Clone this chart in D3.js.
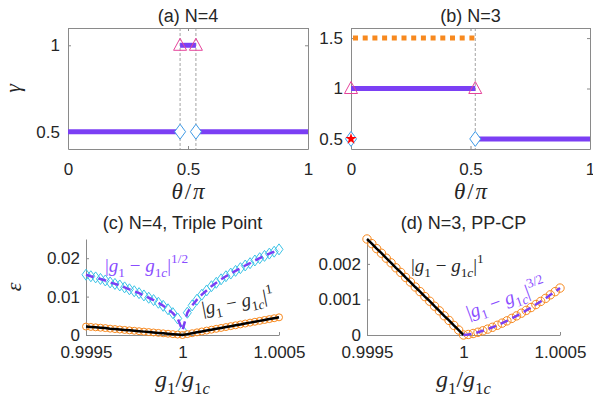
<!DOCTYPE html>
<html>
<head>
<meta charset="utf-8">
<script src="https://cdn.jsdelivr.net/npm/d3@7"></script>
<style>
  body { margin: 0; background: #fff; }
  text { font-family: "Liberation Sans", Arial, sans-serif; fill: #262626; }
</style>
</head>
<body>
<svg id="fig" width="593" height="398"></svg>
<script>
// ---------- data ----------
const thetaTicks = [0, 0.5, 1];

// (a) N=4
const aSegStart = [0, 0.467, 0.533];
const aSegEnd = [0.467, 0.533, 1];
const aSegGamma = [0.5, 1, 0.5];
const aCritTheta = [0.467, 0.533];
const aTriGamma = [1, 1];
const aDiaGamma = [0.5, 0.5];
const aGammaTicks = [0.5, 1];

// (b) N=3
const bSegStart = [0, 0.52];
const bSegEnd = [0.52, 1];
const bSegGamma = [1, 0.5];
const bDotStart = [0];
const bDotEnd = [0.52];
const bDotGamma = [1.5];
const bCritTheta = [0.52];
const bMarkTheta = [0, 0.52];
const bTriGamma = [1, 1];
const bDiaGamma = [0.5, 0.5];
const bStarTheta = [0];
const bStarGamma = [0.5];
const bGammaTicks = [0.5, 1, 1.5];

// (c),(d) x = g1/g1c - 1, in units of 1e-5
const dg = [-50, -47.5, -45, -42.5, -40, -37.5, -35, -32.5, -30, -27.5, -25, -22.5, -20, -17.5, -15, -12.5, -10, -7.5, -5, -2.5, 0,
  2.5, 5, 7.5, 10, 12.5, 15, 17.5, 20, 22.5, 25, 27.5, 30, 32.5, 35, 37.5, 40, 42.5, 45, 47.5, 50];
const gTicks = [-50, 0, 50];
const gTickLabels = ["0.9995", "1", "1.0005"];

// (c) N=4 triple point
const cGapSqrt = [0.0157, 0.0153, 0.0150, 0.0146, 0.0142, 0.0137, 0.0133, 0.0129, 0.0124, 0.0119, 0.0114, 0.0109, 0.0103, 0.0097, 0.0091, 0.0084, 0.0076, 0.0067, 0.0057, 0.0043, 0.0012,
  0.0058, 0.0077, 0.0092, 0.0105, 0.0116, 0.0127, 0.0136, 0.0145, 0.0153, 0.0160, 0.0167, 0.0174, 0.0181, 0.0187, 0.0194, 0.0200, 0.0206, 0.0212, 0.0217, 0.0223];
const cGapLin = [0.0022, 0.0021, 0.0020, 0.0019, 0.0018, 0.00165, 0.00154, 0.00143, 0.00132, 0.00121, 0.0011, 0.00099, 0.00088, 0.00077, 0.00066, 0.00055, 0.00044, 0.00033, 0.00022, 0.00011, 0,
  0.00023, 0.00046, 0.00069, 0.00092, 0.00115, 0.00138, 0.00161, 0.00184, 0.00207, 0.0023, 0.00253, 0.00276, 0.00299, 0.00322, 0.00345, 0.00368, 0.00391, 0.00414, 0.00437, 0.0046];
const cTicks = [0, 0.01, 0.02];

// (d) N=3 PP-CP
const dGap = [0.0027, 0.00257, 0.00243, 0.0023, 0.00216, 0.00203, 0.00189, 0.00176, 0.00162, 0.00149, 0.00135, 0.00122, 0.00108, 0.00095, 0.00081, 0.00068, 0.00054, 0.00041, 0.00027, 0.00014, 0,
  0.000015, 0.000042, 0.000077, 0.000118, 0.000165, 0.000217, 0.000273, 0.000334, 0.000398, 0.000467, 0.000538, 0.000613, 0.000692, 0.000773, 0.000857, 0.000944, 0.00103, 0.00113, 0.00122, 0.00132];
const dTicks = [0, 0.001, 0.002];

// ---------- styles ----------
const purple = "#7b3ff4";
const purpleText = "#8a4dff";
const magenta = "#e5449b";
const blue = "#3f9ae6";
const cyan = "#3cc3e6";
const orange = "#f7891f";
const axisCol = "#8a8a8a";
const tickFont = 17;
const titleFont = 18;

const svg = d3.select("#fig");

// math-ish text (LaTeX look): parts = [text, level(0 base, -1 sub, 1 sup), italic]
function addMath(g, parts, fs) {
  const t = g.append("text")
    .style("font-family", '"Liberation Serif", "DejaVu Serif", serif')
    .style("font-size", fs + "px");
  let cur = 0;
  parts.forEach(([txt, lvl, it]) => {
    const target = lvl === -1 ? 0.28 * fs : lvl === 1 ? -0.45 * fs : 0;
    t.append("tspan").text(txt)
      .attr("dy", target - cur)
      .style("font-size", (lvl ? 0.7 * fs : fs) + "px")
      .style("font-style", it ? "italic" : "normal");
    cur = target;
  });
  return t;
}
const absPow = p => [["|", 0, false], ["g", 0, true], ["1", -1, false], [" \u2212 ", 0, false],
  ["g", 0, true], ["1", -1, false], ["c", -1, true], ["|", 0, false], [p, 1, false]];
const gRatio = [["g", 0, true], ["1", -1, false], ["/", 0, false], ["g", 0, true], ["1", -1, false], ["c", -1, true]];
const thetaPi = [["\u03b8", 0, true], ["\u200a/\u200a", 0, false], ["\u03c0", 0, true]];

function styleAxis(g) {
  g.selectAll(".domain").attr("stroke", axisCol);
  g.selectAll(".tick line").attr("stroke", axisCol);
  g.selectAll(".tick text").style("font-size", tickFont + "px").attr("fill", "#262626");
}

const triPath = "M0,-7L6.5,5L-6.5,5Z";
const diaPath = (w, h) => `M0,${-h}L${w},0L0,${h}L${-w},0Z`;

// ---------- box panels (a), (b) ----------
function boxPanel(x, y, yTicks, title) {
  const [x0, x1] = x.range();
  const [y0, y1] = y.range();
  const g = svg.append("g");
  g.append("g").attr("transform", `translate(0,${y0})`)
    .call(d3.axisBottom(x).tickValues(thetaTicks).tickSize(-3).tickSizeOuter(0).tickPadding(14).tickFormat(d3.format("")))
    .call(styleAxis);
  g.append("g").attr("transform", `translate(0,${y1})`)
    .call(d3.axisTop(x).tickValues(thetaTicks).tickSize(-3).tickSizeOuter(0).tickFormat(""))
    .call(styleAxis);
  g.append("g").attr("transform", `translate(${x0},0)`)
    .call(d3.axisLeft(y).tickValues(yTicks).tickSize(-3).tickSizeOuter(0).tickPadding(8).tickFormat(d3.format("")))
    .call(styleAxis);
  g.append("g").attr("transform", `translate(${x1},0)`)
    .call(d3.axisRight(y).tickValues(yTicks).tickSize(-3).tickSizeOuter(0).tickFormat(""))
    .call(styleAxis);
  g.append("text").attr("x", (x0 + x1) / 2).attr("y", y1 - 6)
    .attr("text-anchor", "middle").style("font-size", titleFont + "px").text(title);
  addMath(g, thetaPi, 23).attr("x", (x0 + x1) / 2).attr("y", 199).attr("text-anchor", "middle");
  return g;
}

// (a)
const xA = d3.scaleLinear().domain([0, 1]).range([68, 308]);
const yA = d3.scaleLinear().domain([0.4, 1.1]).range([149, 28]);
const gA = boxPanel(xA, yA, aGammaTicks, "(a) N=4");
gA.selectAll(".crit").data(aCritTheta).enter().append("line")
  .attr("x1", d => xA(d)).attr("x2", d => xA(d)).attr("y1", yA(1.1)).attr("y2", yA(0.4))
  .attr("stroke", "#8c8c8c").attr("stroke-width", 0.8).attr("stroke-dasharray", "3,2");
gA.selectAll(".seg").data(aSegGamma).enter().append("line")
  .attr("x1", (d, i) => xA(aSegStart[i])).attr("x2", (d, i) => xA(aSegEnd[i]))
  .attr("y1", d => yA(d)).attr("y2", d => yA(d))
  .attr("stroke", purple).attr("stroke-width", 5);
gA.selectAll(".tri").data(aCritTheta).enter().append("path")
  .attr("d", triPath).attr("transform", (d, i) => `translate(${xA(d)},${yA(aTriGamma[i])})`)
  .attr("fill", "none").attr("stroke", magenta).attr("stroke-width", 1);
gA.selectAll(".dia").data(aCritTheta).enter().append("path")
  .attr("d", diaPath(5.5, 7.5)).attr("transform", (d, i) => `translate(${xA(d)},${yA(aDiaGamma[i])})`)
  .attr("fill", "#fff").attr("stroke", blue).attr("stroke-width", 1);
addMath(gA, [["\u03b3", 0, true]], 22).attr("transform", `translate(20,${yA(0.75)}) rotate(-90)`).attr("text-anchor", "middle");

// (b)
const xB = d3.scaleLinear().domain([0, 1]).range([351, 590]);
const yB = d3.scaleLinear().domain([0.4, 1.6]).range([149, 28]);
const gB = boxPanel(xB, yB, bGammaTicks, "(b) N=3");
gB.selectAll(".crit").data(bCritTheta).enter().append("line")
  .attr("x1", d => xB(d)).attr("x2", d => xB(d)).attr("y1", yB(1.6)).attr("y2", yB(0.4))
  .attr("stroke", "#8c8c8c").attr("stroke-width", 0.8).attr("stroke-dasharray", "3,2");
gB.selectAll(".dot").data(bDotGamma).enter().append("line")
  .attr("x1", (d, i) => xB(bDotStart[i]) + 2).attr("x2", (d, i) => xB(bDotEnd[i]))
  .attr("y1", d => yB(d)).attr("y2", d => yB(d))
  .attr("stroke", orange).attr("stroke-width", 5).attr("stroke-dasharray", "5,4.7");
gB.selectAll(".seg").data(bSegGamma).enter().append("line")
  .attr("x1", (d, i) => xB(bSegStart[i])).attr("x2", (d, i) => xB(bSegEnd[i]))
  .attr("y1", d => yB(d)).attr("y2", d => yB(d))
  .attr("stroke", purple).attr("stroke-width", 5);
gB.selectAll(".tri").data(bMarkTheta).enter().append("path")
  .attr("d", triPath).attr("transform", (d, i) => `translate(${xB(d)},${yB(bTriGamma[i])})`)
  .attr("fill", "none").attr("stroke", magenta).attr("stroke-width", 1);
gB.selectAll(".dia").data(bMarkTheta).enter().append("path")
  .attr("d", diaPath(5.5, 7.5)).attr("transform", (d, i) => `translate(${xB(d)},${yB(bDiaGamma[i])})`)
  .attr("fill", "#fff").attr("stroke", blue).attr("stroke-width", 1);
gB.selectAll(".star").data(bStarTheta).enter().append("path")
  .attr("d", d3.symbol(d3.symbolStar, 40))
  .attr("transform", (d, i) => `translate(${xB(d)},${yB(bStarGamma[i])})`)
  .attr("fill", "#ff0000");

// ---------- open panels (c), (d) ----------
function openPanel(x, y, yTicks, title) {
  const [x0, x1] = x.range();
  const [y0, y1] = y.range();
  const g = svg.append("g");
  g.append("g").attr("transform", `translate(0,${y0})`)
    .call(d3.axisBottom(x).tickValues(gTicks).tickSize(-3).tickSizeOuter(0).tickPadding(11)
      .tickFormat((d, i) => gTickLabels[i]))
    .call(styleAxis);
  g.append("g").attr("transform", `translate(${x0},0)`)
    .call(d3.axisLeft(y).tickValues(yTicks).tickSize(-3).tickSizeOuter(0).tickPadding(6).tickFormat(d3.format("")))
    .call(styleAxis);
  g.append("text").attr("x", (x0 + x1) / 2).attr("y", 229)
    .attr("text-anchor", "middle").style("font-size", titleFont + "px").text(title);
  addMath(g, gRatio, 24).attr("x", (x0 + x1) / 2).attr("y", 387).attr("text-anchor", "middle");
  return g;
}

// (c)
const xC = d3.scaleLinear().domain([-50, 50]).range([86, 279]);
const yC = d3.scaleLinear().domain([0, 0.025]).range([335, 239]);
const gC = openPanel(xC, yC, cTicks, "(c) N=4, Triple Point");
const lineC = d3.line().x((d, i) => xC(dg[i])).y(d => yC(d));
gC.selectAll(".cdia").data(cGapSqrt).enter().append("path")
  .attr("d", diaPath(4, 5.5)).attr("transform", (d, i) => `translate(${xC(dg[i])},${yC(d)})`)
  .attr("fill", "none").attr("stroke", cyan).attr("stroke-width", 1);
gC.append("path").datum(cGapSqrt).attr("d", lineC)
  .attr("fill", "none").attr("stroke", purple).attr("stroke-width", 2.5).attr("stroke-dasharray", "8,5");
gC.selectAll(".ccir").data(cGapLin).enter().append("circle")
  .attr("cx", (d, i) => xC(dg[i])).attr("cy", d => yC(d)).attr("r", 3.5)
  .attr("fill", "none").attr("stroke", orange).attr("stroke-width", 1);
gC.append("path").datum(cGapLin).attr("d", lineC)
  .attr("fill", "none").attr("stroke", "#000").attr("stroke-width", 2.5);
addMath(gC, [["\u03b5", 0, true]], 22).attr("transform", `translate(21,${yC(0.0125)}) rotate(-90)`).attr("text-anchor", "middle");
addMath(gC, absPow("1/2"), 19).attr("x", 105).attr("y", 272).selectAll("tspan").style("fill", purpleText);
addMath(gC, absPow("1"), 19).attr("transform", "translate(203,315) rotate(-11)").selectAll("tspan").style("fill", "#262626");

// (d)
const xD = d3.scaleLinear().domain([-50, 50]).range([367, 560]);
const yD = d3.scaleLinear().domain([0, 0.0027]).range([335, 239]);
const gD = openPanel(xD, yD, dTicks, "(d) N=3, PP-CP");
const lineD = d3.line().x(d => xD(d[0])).y(d => yD(d[1]));
const dPts = dg.map((v, i) => [v, dGap[i]]);
gD.selectAll(".dcir").data(dGap).enter().append("circle")
  .attr("cx", (d, i) => xD(dg[i])).attr("cy", d => yD(d)).attr("r", 4.2)
  .attr("fill", "none").attr("stroke", orange).attr("stroke-width", 1);
gD.append("path").datum(dPts.filter(p => p[0] <= 0)).attr("d", lineD)
  .attr("fill", "none").attr("stroke", "#000").attr("stroke-width", 2.5);
gD.append("path").datum(dPts.filter(p => p[0] >= 0)).attr("d", lineD)
  .attr("fill", "none").attr("stroke", purple).attr("stroke-width", 2.5).attr("stroke-dasharray", "8,5");
addMath(gD, absPow("1"), 19).attr("x", 411).attr("y", 272).selectAll("tspan").style("fill", "#262626");
addMath(gD, absPow("3/2"), 19).attr("transform", "translate(469,319) rotate(-20)").selectAll("tspan").style("fill", purpleText);
</script>
</body>
</html>
